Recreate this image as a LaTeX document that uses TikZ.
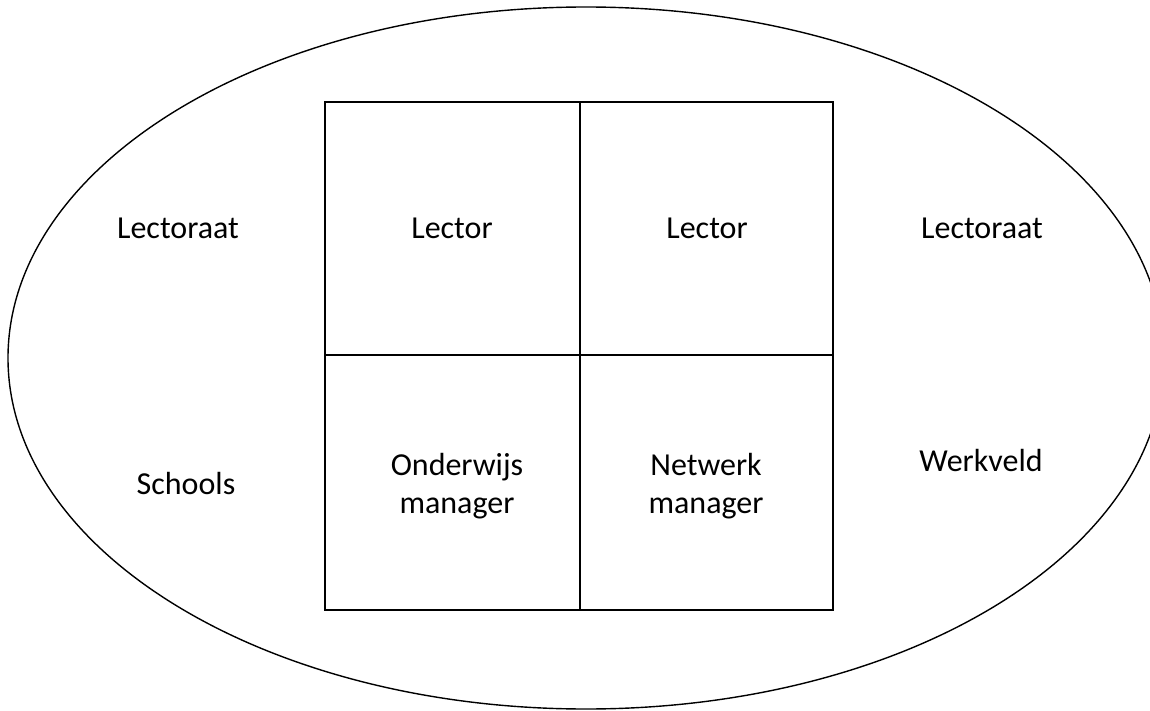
\documentclass[tikz,border=0pt]{standalone}
\usepackage{fontspec}
\setmainfont{Carlito}
\tikzset{
  label text/.style={font=\fontsize{16}{19}\selectfont, align=center, inner sep=0pt},
}
\begin{document}
\begin{tikzpicture}[x=0.5pt, y=-0.5pt, line width=0.7pt]
        \useasboundingbox (0,0) rectangle (1150,711);
        \draw (586, 358) ellipse [x radius=578, y radius=351];
        \draw (325,102) rectangle (833,610);
        \draw (580,102) -- (580,610);
        \draw (325,355) -- (833,355);
        \node[label text, anchor=base] (lectoraatL) at (178, 239) {Lectoraat};
        \node[label text, anchor=base] (lectorL) at (452, 239) {Lector};
        \node[label text, anchor=base] (lectorR) at (707, 239) {Lector};
        \node[label text, anchor=base] (lectoraatR) at (982, 239) {Lectoraat};
        \node[label text, anchor=base] (schools) at (186, 494) {Schools};
        \node[label text] (onderwijs) at (457, 486) {Onderwijs\\manager};
        \node[label text] (netwerk) at (706, 486) {Netwerk\\manager};
        \node[label text, anchor=base] (werkveld) at (981, 471) {Werkveld};
    \end{tikzpicture}
\end{document}
